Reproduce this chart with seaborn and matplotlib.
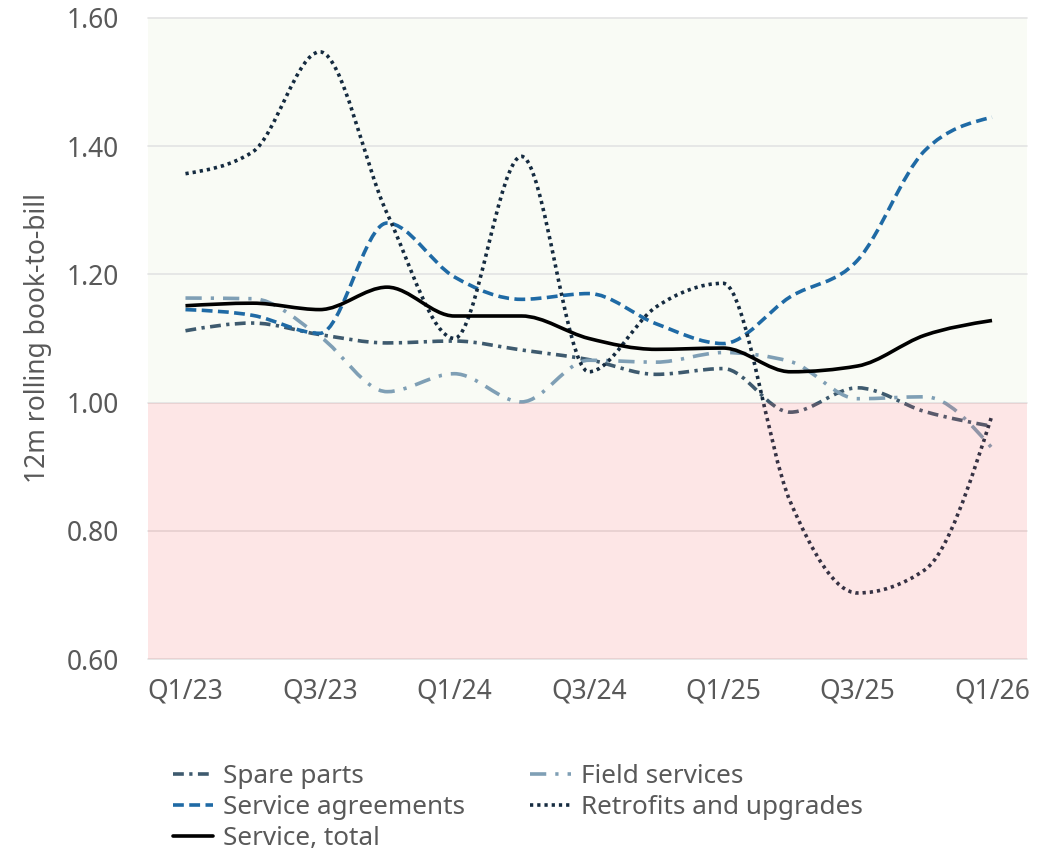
import numpy as np
import pandas as pd
import matplotlib
matplotlib.use("Agg")
import matplotlib.pyplot as plt
import seaborn as sns
from matplotlib.path import Path
from matplotlib.patches import PathPatch
from matplotlib.lines import Line2D

# -----------------------------------------------------
# Data: 12m rolling book-to-bill by quarter
# -----------------------------------------------------
quarters = ["Q1/23", "Q2/23", "Q3/23", "Q4/23", "Q1/24", "Q2/24", "Q3/24",
            "Q4/24", "Q1/25", "Q2/25", "Q3/25", "Q4/25", "Q1/26"]

spare_parts = [1.112, 1.124, 1.106, 1.093, 1.096, 1.082, 1.067,
               1.044, 1.053, 0.985, 1.023, 0.986, 0.963]
field_services = [1.163, 1.162, 1.103, 1.017, 1.045, 1.001, 1.066,
                  1.063, 1.078, 1.064, 1.006, 1.009, 0.929]
service_agreements = [1.145, 1.136, 1.108, 1.280, 1.196, 1.161, 1.170,
                      1.123, 1.092, 1.165, 1.222, 1.393, 1.445]
retrofits = [1.357, 1.391, 1.547, 1.295, 1.100, 1.384, 1.048,
             1.149, 1.186, 0.845, 0.703, 0.739, 0.980]
service_total = [1.151, 1.155, 1.145, 1.180, 1.135, 1.135, 1.100,
                 1.083, 1.085, 1.048, 1.057, 1.105, 1.128]

y_ticks = [0.60, 0.80, 1.00, 1.20, 1.40, 1.60]

series = [
    ("Spare parts", spare_parts, "#3e5a6e", (0, (3.0, 1.5, 0.9, 1.5))),
    ("Field services", field_services, "#7f9fb5", (0, (4.5, 2.5, 0.9, 2.5))),
    ("Service agreements", service_agreements, "#1f6aa5", (0, (3.0, 1.5))),
    ("Retrofits and upgrades", retrofits, "#152b40", (0, (0.9, 1.1))),
    ("Service, total", service_total, "#000000", "-"),
]


def monotone_path(x, y):
    # monotone cubic (d3 monotoneX style) as bezier path
    x = np.asarray(x, float)
    y = np.asarray(y, float)
    h = np.diff(x)
    s = np.diff(y) / h
    m = np.zeros_like(y)
    for i in range(1, len(y) - 1):
        p = (s[i - 1] * h[i] + s[i] * h[i - 1]) / (h[i - 1] + h[i])
        m[i] = (np.sign(s[i - 1]) + np.sign(s[i])) * min(abs(s[i - 1]), abs(s[i]), 0.5 * abs(p))
    m[0] = (3 * s[0] - m[1]) / 2
    m[-1] = (3 * s[-1] - m[-2]) / 2
    verts = [(x[0], y[0])]
    codes = [Path.MOVETO]
    for i in range(len(x) - 1):
        d = h[i] / 3
        verts += [(x[i] + d, y[i] + m[i] * d), (x[i + 1] - d, y[i + 1] - m[i + 1] * d), (x[i + 1], y[i + 1])]
        codes += [Path.CURVE4] * 3
    return Path(verts, codes)


sns.set_theme(style="white")
plt.rcParams["font.family"] = ["Noto Sans", "DejaVu Sans"]
text_color = "#595959"
fs = 19.0
legend_fs = 18.8

fig, ax = plt.subplots(figsize=(10.56, 8.51), dpi=100)
fig.subplots_adjust(left=0.140, right=0.9725, top=0.979, bottom=0.2256)

# background bands
ax.axhspan(1.0, 1.6, color="#f3f8ea", alpha=0.45, lw=0, zorder=0)
ax.axhspan(0.6, 1.0, color=(0.96, 0.36, 0.36), alpha=0.15, lw=0, zorder=6)

lw = 2.6
x_pos = np.arange(len(quarters))
handles = {}
for i, (name, vals, color, ls) in enumerate(series):
    df = pd.DataFrame({"x": x_pos, "y": vals})
    sns.lineplot(data=df, x="x", y="y", ax=ax, color=color, legend=False)
    line = ax.lines[-1]
    xy = line.get_xydata()
    line.remove()
    patch = PathPatch(monotone_path(xy[:, 0], xy[:, 1]), facecolor="none",
                      edgecolor=color, lw=lw, linestyle=ls,
                      capstyle="butt", joinstyle="round", zorder=3 + i * 0.1)
    ax.add_patch(patch)
    handles[name] = Line2D([], [], color=color, lw=lw, linestyle=ls)

ax.set_xlim(-0.56, 12.52)
ax.set_ylim(0.6, 1.6)
ax.set_xticks(x_pos[::2])
ax.set_xticklabels(quarters[::2])
ax.set_yticks(y_ticks)
ax.set_yticklabels([f"{v:.2f}" for v in y_ticks])
ax.tick_params(axis="both", length=0, labelsize=fs, labelcolor=text_color)
ax.tick_params(axis="y", pad=21)
ax.tick_params(axis="x", pad=13)

ax.yaxis.grid(True, color="#e3e3e3", linewidth=1.2)
ax.xaxis.grid(False)
ax.set_axisbelow(True)
for gl in ax.get_ygridlines():
    gl.set_clip_on(False)
sns.despine(ax=ax, left=True, bottom=True)

ax.set_xlabel("")
ax.set_ylabel("12m rolling book-to-bill", fontsize=fs, color=text_color, labelpad=10)

order = ["Spare parts", "Service agreements", "Service, total",
         "Field services", "Retrofits and upgrades"]
leg = fig.legend([handles[k] for k in order], order, ncol=2, frameon=False,
                 loc="upper left", bbox_to_anchor=(0.1638, 0.102),
                 borderaxespad=0, borderpad=0, fontsize=legend_fs,
                 handlelength=1.54, handletextpad=0.38, columnspacing=2.5,
                 labelspacing=0.23, labelcolor=text_color)

fig.savefig("out.png", dpi=100)
